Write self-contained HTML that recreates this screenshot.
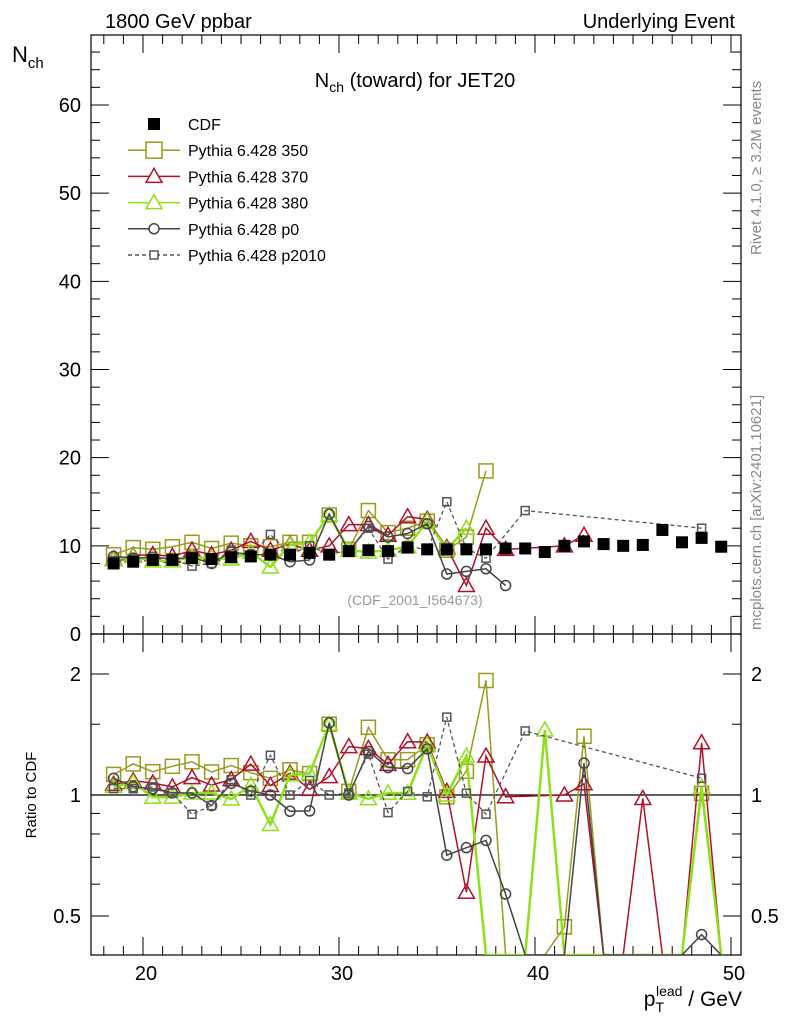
<!DOCTYPE html>
<html><head><meta charset="utf-8"><style>
body{margin:0;background:#fff;}
svg text{font-family:"Liberation Sans",sans-serif;}
</style></head><body>
<svg id="c" width="786" height="1024" xmlns="http://www.w3.org/2000/svg">
<rect x="0" y="0" width="786" height="1024" fill="#fff"/>
<text x="105" y="28" font-size="20">1800 GeV ppbar</text>
<text x="735" y="28" font-size="20" text-anchor="end">Underlying Event</text>
<text x="415" y="87" font-size="20" text-anchor="middle">N<tspan font-size="14" dy="5">ch</tspan><tspan dy="-5"> (toward) for JET20</tspan></text>
<text x="12" y="62" font-size="22">N<tspan font-size="15" dy="6">ch</tspan></text>
<text transform="translate(36,795) rotate(-90)" font-size="15" text-anchor="middle">Ratio to CDF</text>
<text x="742" y="1006" font-size="21" text-anchor="end">p<tspan font-size="14" dy="6">T</tspan><tspan font-size="14" dy="-16" dx="-8">lead</tspan><tspan dy="10"> / GeV</tspan></text>
<text transform="translate(761,255) rotate(-90)" font-size="15" fill="#888">Rivet 4.1.0, ≥ 3.2M events</text>
<text transform="translate(761,630) rotate(-90)" font-size="15" fill="#888">mcplots.cern.ch [arXiv:2401.10621]</text>
<text x="415" y="605" font-size="14" fill="#999" text-anchor="middle">(CDF_2001_I564673)</text>
<g id="axes"></g>
<g id="marks"></g>
<g id="legend"></g>
</svg>
<script>
const pts = [18.5,19.5,20.5,21.5,22.5,23.5,24.5,25.5,26.5,27.5,28.5,29.5,30.5,31.5,32.5,33.5,34.5,35.5,36.5,37.5,38.5,39.5,40.5,41.5,42.5,43.5,44.5,45.5,46.5,47.5,48.5,49.5];
const cdf = [8.0,8.2,8.4,8.4,8.6,8.5,8.7,8.8,9.0,9.0,9.2,9.0,9.4,9.5,9.4,9.8,9.6,9.6,9.6,9.6,9.7,9.7,9.3,10.0,10.5,10.2,10.0,10.1,11.8,10.4,10.9,9.9];
const s350 = [9.0,9.8,9.6,9.9,10.4,9.7,10.3,10.0,9.9,10.4,10.4,13.5,9.6,14.0,11.5,12.0,12.8,9.5,11.0,18.5,0,0,0,4.7,14.7,0,0,0,0,0,11.0,0];
const s370 = [8.5,8.9,9.0,8.8,9.5,9.0,9.5,10.5,9.5,10.2,9.5,10.0,12.4,12.4,11.2,13.3,13.0,9.8,5.5,12.0,9.6,null,null,10.0,11.2,0,0,9.9,0,0,14.7,0];
const s380 = [8.4,8.8,8.3,8.3,8.7,8.6,8.5,9.3,7.6,10.1,10.4,13.5,9.5,9.3,9.5,9.9,12.8,9.6,12.0,0,0,0,13.5,0,0,0,0,0,0,0,11.4,0];
const sp0 = [8.8,8.6,8.7,8.5,8.7,8.0,9.3,9.0,9.0,8.2,8.4,13.6,9.4,12.2,11.0,11.4,12.5,6.8,7.1,7.4,5.5,0,0,0,12.6,0,0,0,0,0,4.9,0];
const sp2010 = [8.3,8.5,8.8,8.5,7.7,8.0,9.5,8.8,11.3,9.0,10.0,9.0,9.5,12.0,8.5,10.0,9.5,15.0,9.7,8.6,null,14.0,null,null,null,null,null,null,null,null,12.0,null];
const yTicks = [0,10,20,30,40,50,60];
const xTicks = [20,30,40,50];
const rTicks = [0.5,1,2];
const names = ["CDF","Pythia 6.428 350","Pythia 6.428 370","Pythia 6.428 380","Pythia 6.428 p0","Pythia 6.428 p2010"];

const L=91,R=741,T=35,MB=634,RB=955;
const X=v=>143+(v-20)*19.6;
const Y=v=>MB-v*8.817;
const RY=r=>{if(r<=0)return RB;let y=795-Math.log2(r)*121;return Math.max(MB,Math.min(RB,y));};
const NS="http://www.w3.org/2000/svg";
function mk(tag,attrs,parent){const e=document.createElementNS(NS,tag);for(const k in attrs)e.setAttribute(k,attrs[k]);parent.appendChild(e);return e;}
const ax=document.getElementById('axes'),mg=document.getElementById('marks'),lg=document.getElementById('legend');

let f1=mk('rect',{x:L,y:T,width:R-L,height:MB-T,fill:'none',stroke:'#000','stroke-width':1.2},ax);


let f2=mk('rect',{x:L,y:MB,width:R-L,height:RB-MB,fill:'none',stroke:'#000','stroke-width':1.2},ax);


for(let v=0;v<=66;v+=2){const y=Y(v);const maj=v%10===0;
 mk('line',{x1:L,x2:L+(maj?18:9),y1:y,y2:y,stroke:'#000'},ax);
 mk('line',{x1:R,x2:R-(maj?18:9),y1:y,y2:y,stroke:'#000'},ax);}
yTicks.forEach(v=>{const t=mk('text',{x:L-10,y:Y(v)+7,'font-size':20,'text-anchor':'end'},ax);t.textContent=v;
 
 });
for(let v=18;v<=50;v+=1){const x=X(v);const maj=v%10===0;
 [MB,RB].forEach(b=>{mk('line',{x1:x,x2:x,y1:b,y2:b-(maj?18:9),stroke:'#000'},ax);});
 mk('line',{x1:x,x2:x,y1:MB,y2:MB+(maj?18:9),stroke:'#000'},ax);
 mk('line',{x1:x,x2:x,y1:T,y2:T+(maj?18:9),stroke:'#000'},ax);}
xTicks.forEach(v=>{const t=mk('text',{x:X(v)+3,y:980,'font-size':20,'text-anchor':'middle'},ax);t.textContent=v;
 
 });
[0.5,0.6,0.7,0.8,0.9,1,1.5,2].forEach(r=>{const y=RY(r);const maj=rTicks.includes(r);
 mk('line',{x1:L,x2:L+(maj?18:9),y1:y,y2:y,stroke:'#000'},ax);
 mk('line',{x1:R,x2:R-(maj?18:9),y1:y,y2:y,stroke:'#000'},ax);});
rTicks.forEach(r=>{[[L-10,'end'],[R+10,'start']].forEach(([x,a])=>{const t=mk('text',{x:x,y:RY(r)+7,'font-size':20,'text-anchor':a},ax);t.textContent=r;
 
 });});
mk('line',{x1:L,x2:R,y1:RY(1),y2:RY(1),stroke:'#000','stroke-width':1.2},ax);

const series=[
 {d:s350,c:'#9a9a1e',m:'sq',sz:7,w:1.5,dash:'',lastMain:19},
 {d:s370,c:'#b0112b',m:'tri',sz:8,w:1.5,dash:'',lastMain:24},
 {d:s380,c:'#8ee01a',m:'tri',sz:8,w:2.5,dash:'',lastMain:18},
 {d:sp0,c:'#444',m:'circ',sz:5,w:1.5,dash:'',lastMain:20},
 {d:sp2010,c:'#555',m:'sqs',sz:4,w:1.3,dash:'4,3',lastMain:31}];
function marker(m,x,y,c,sz,g){
 if(m==='sq'||m==='sqs')return mk('rect',{x:x-sz,y:y-sz,width:2*sz,height:2*sz,fill:'none',stroke:c,'stroke-width':1.5},g);
 if(m==='tri')return mk('polygon',{points:`${x},${y-sz} ${x-sz},${y+sz*0.75} ${x+sz},${y+sz*0.75}`,fill:'none',stroke:c,'stroke-width':1.5},g);
 return mk('circle',{cx:x,cy:y,r:sz,fill:'none',stroke:c,'stroke-width':1.5},g);}
const clip=mk('clipPath',{id:'rc'},mg);mk('rect',{x:L,y:MB,width:R-L,height:RB-MB},clip);
const clipm=mk('clipPath',{id:'mc'},mg);mk('rect',{x:L,y:T,width:R-L,height:MB-T},clipm);
series.forEach((s,si)=>{
 const g=mk('g',{'clip-path':'url(#mc)'},mg);
 
 
 let path='',pen=false;
 s.d.forEach((v,i)=>{if(i>s.lastMain||v===null)return;if(v===0){pen=false;return;}
  path+=(pen?'L':'M')+X(pts[i])+','+Y(v);pen=true;});
 mk('path',{d:path,fill:'none',stroke:s.c,'stroke-width':s.w,'stroke-dasharray':s.dash},g);
 s.d.forEach((v,i)=>{if(v&&i<=s.lastMain)marker(s.m,X(pts[i]),Y(v),s.c,s.sz,g);});
 const gr=mk('g',{'clip-path':'url(#rc)'},mg);
 
 
 let rp='';let first=true;
 s.d.forEach((v,i)=>{if(v===null)return;const y=RY(v/cdf[i]);rp+=(first?'M':'L')+X(pts[i])+','+y;first=false;});
 mk('path',{d:rp,fill:'none',stroke:s.c,'stroke-width':s.w,'stroke-dasharray':s.dash},gr);
 s.d.forEach((v,i)=>{if(v)marker(s.m,X(pts[i]),RY(v/cdf[i]),s.c,s.sz,gr);});
});
cdf.forEach((v,i)=>{const r=mk('rect',{x:X(pts[i])-6,y:Y(v)-6,width:12,height:12,fill:'#000'},mg);
 
 });
const lmarks=[['fsq','#000',''],['sq','#9a9a1e',''],['tri','#b0112b',''],['tri','#8ee01a',''],['circ','#444',''],['sqs','#555','4,3']];
lmarks.forEach((lm,i)=>{const y=124+i*26.2;
 const g=mk('g',{},lg);
 
 
 if(lm[0]==='fsq'){mk('rect',{x:148,y:y-6,width:12,height:12,fill:'#000'},g);}
 else{mk('line',{x1:128,x2:180,y1:y,y2:y,stroke:lm[1],'stroke-width':1.5,'stroke-dasharray':lm[2]},g);
  const sz=lm[0]==='circ'?5:lm[0]==='sqs'?4:8;
  const bg=mk('g',{},g);marker(lm[0],154,y,lm[1],sz,bg);
  bg.firstChild.setAttribute('fill','#fff');}
 const t=mk('text',{x:188,y:y+6,'font-size':16},g);t.textContent=names[i];});
</script>
</body></html>
